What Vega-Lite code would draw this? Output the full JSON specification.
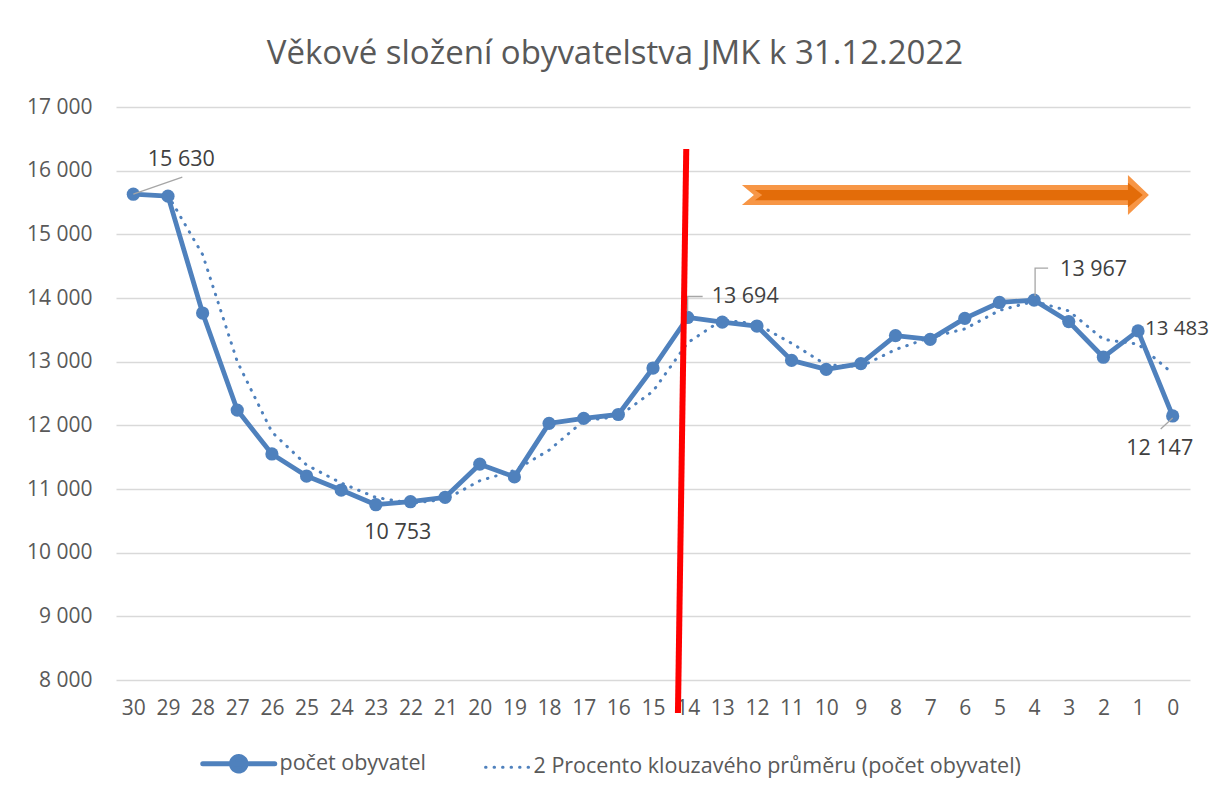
{
  "$schema": "https://vega.github.io/schema/vega-lite/v6.json",
  "width": 1074,
  "height": 573,
  "autosize": {"type": "none"},
  "padding": {"left": 116, "top": 107, "right": 19, "bottom": 113},
  "background": "white",
  "config": {
    "locale": {"number": {"decimal": ",", "thousands": " ", "grouping": [3], "currency": ["", ""]}},
    "font": "Open Sans",
    "view": {"stroke": null}
  },
  "title": {
    "text": "Věkové složení obyvatelstva JMK k 31.12.2022",
    "font": "Open Sans",
    "fontSize": 33,
    "fontWeight": "normal",
    "color": "#595959",
    "anchor": "middle",
    "dx": -38,
    "offset": 25
  },
  "datasets": {
    "main": [
      {"age": 30, "series": "počet obyvatel", "value": 15630},
      {"age": 29, "series": "počet obyvatel", "value": 15600},
      {"age": 28, "series": "počet obyvatel", "value": 13764},
      {"age": 27, "series": "počet obyvatel", "value": 12240},
      {"age": 26, "series": "počet obyvatel", "value": 11550},
      {"age": 25, "series": "počet obyvatel", "value": 11204},
      {"age": 24, "series": "počet obyvatel", "value": 10984},
      {"age": 23, "series": "počet obyvatel", "value": 10753},
      {"age": 22, "series": "počet obyvatel", "value": 10800},
      {"age": 21, "series": "počet obyvatel", "value": 10870},
      {"age": 20, "series": "počet obyvatel", "value": 11390},
      {"age": 19, "series": "počet obyvatel", "value": 11190},
      {"age": 18, "series": "počet obyvatel", "value": 12030},
      {"age": 17, "series": "počet obyvatel", "value": 12110},
      {"age": 16, "series": "počet obyvatel", "value": 12170},
      {"age": 15, "series": "počet obyvatel", "value": 12900},
      {"age": 14, "series": "počet obyvatel", "value": 13694},
      {"age": 13, "series": "počet obyvatel", "value": 13620},
      {"age": 12, "series": "počet obyvatel", "value": 13560},
      {"age": 11, "series": "počet obyvatel", "value": 13020},
      {"age": 10, "series": "počet obyvatel", "value": 12880},
      {"age": 9, "series": "počet obyvatel", "value": 12970},
      {"age": 8, "series": "počet obyvatel", "value": 13410},
      {"age": 7, "series": "počet obyvatel", "value": 13350},
      {"age": 6, "series": "počet obyvatel", "value": 13680},
      {"age": 5, "series": "počet obyvatel", "value": 13930},
      {"age": 4, "series": "počet obyvatel", "value": 13967},
      {"age": 3, "series": "počet obyvatel", "value": 13630},
      {"age": 2, "series": "počet obyvatel", "value": 13070},
      {"age": 1, "series": "počet obyvatel", "value": 13483},
      {"age": 0, "series": "počet obyvatel", "value": 12147},
      {"age": 29, "series": "2 Procento klouzavého průměru (počet obyvatel)", "value": 15615},
      {"age": 28, "series": "2 Procento klouzavého průměru (počet obyvatel)", "value": 14682},
      {"age": 27, "series": "2 Procento klouzavého průměru (počet obyvatel)", "value": 13002},
      {"age": 26, "series": "2 Procento klouzavého průměru (počet obyvatel)", "value": 11895},
      {"age": 25, "series": "2 Procento klouzavého průměru (počet obyvatel)", "value": 11377},
      {"age": 24, "series": "2 Procento klouzavého průměru (počet obyvatel)", "value": 11094},
      {"age": 23, "series": "2 Procento klouzavého průměru (počet obyvatel)", "value": 10868},
      {"age": 22, "series": "2 Procento klouzavého průměru (počet obyvatel)", "value": 10777},
      {"age": 21, "series": "2 Procento klouzavého průměru (počet obyvatel)", "value": 10835},
      {"age": 20, "series": "2 Procento klouzavého průměru (počet obyvatel)", "value": 11130},
      {"age": 19, "series": "2 Procento klouzavého průměru (počet obyvatel)", "value": 11290},
      {"age": 18, "series": "2 Procento klouzavého průměru (počet obyvatel)", "value": 11610},
      {"age": 17, "series": "2 Procento klouzavého průměru (počet obyvatel)", "value": 12070},
      {"age": 16, "series": "2 Procento klouzavého průměru (počet obyvatel)", "value": 12140},
      {"age": 15, "series": "2 Procento klouzavého průměru (počet obyvatel)", "value": 12535},
      {"age": 14, "series": "2 Procento klouzavého průměru (počet obyvatel)", "value": 13297},
      {"age": 13, "series": "2 Procento klouzavého průměru (počet obyvatel)", "value": 13657},
      {"age": 12, "series": "2 Procento klouzavého průměru (počet obyvatel)", "value": 13590},
      {"age": 11, "series": "2 Procento klouzavého průměru (počet obyvatel)", "value": 13290},
      {"age": 10, "series": "2 Procento klouzavého průměru (počet obyvatel)", "value": 12950},
      {"age": 9, "series": "2 Procento klouzavého průměru (počet obyvatel)", "value": 12925},
      {"age": 8, "series": "2 Procento klouzavého průměru (počet obyvatel)", "value": 13190},
      {"age": 7, "series": "2 Procento klouzavého průměru (počet obyvatel)", "value": 13380},
      {"age": 6, "series": "2 Procento klouzavého průměru (počet obyvatel)", "value": 13515},
      {"age": 5, "series": "2 Procento klouzavého průměru (počet obyvatel)", "value": 13805},
      {"age": 4, "series": "2 Procento klouzavého průměru (počet obyvatel)", "value": 13948},
      {"age": 3, "series": "2 Procento klouzavého průměru (počet obyvatel)", "value": 13798},
      {"age": 2, "series": "2 Procento klouzavého průměru (počet obyvatel)", "value": 13350},
      {"age": 1, "series": "2 Procento klouzavého průměru (počet obyvatel)", "value": 13276},
      {"age": 0, "series": "2 Procento klouzavého průměru (počet obyvatel)", "value": 12815}
    ],
    "labels": [
      {"age": 30, "value": 15630},
      {"age": 23, "value": 10753},
      {"age": 14, "value": 13694},
      {"age": 4, "value": 13967},
      {"age": 1, "value": 13483},
      {"age": 0, "value": 12147}
    ],
    "redline": [
      {"age": 14.04, "value": 16340, "age2": 14.28, "value2": 7482}
    ],
    "arrow": [
      {"age": 6.56, "value": 15617}
    ]
  },
  "layer": [
    {
      "data": {"name": "main"},
      "transform": [{"filter": "datum.series === 'počet obyvatel'"}],
      "mark": {"type": "line", "strokeWidth": 4.8, "strokeJoin": "round", "strokeCap": "round"},
      "encoding": {
        "x": {
          "field": "age", "type": "quantitative",
          "scale": {"domain": [-0.5, 30.5], "reverse": true, "nice": false, "zero": false},
          "axis": {
            "title": null, "values": [30,29,28,27,26,25,24,23,22,21,20,19,18,17,16,15,14,13,12,11,10,9,8,7,6,5,4,3,2,1,0],
            "tickCount": 40,
            "labelExpr": "'' + datum.value", "grid": false, "domain": false, "ticks": false,
            "labelFont": "Open Sans", "labelFontSize": 21, "labelColor": "#595959", "labelPadding": 17,
            "labelFlush": false, "labelOverlap": false, "labelBound": false
          }
        },
        "y": {
          "field": "value", "type": "quantitative",
          "scale": {"domain": [8000, 17000], "nice": false, "zero": false},
          "axis": {
            "title": null, "values": [8000,9000,10000,11000,12000,13000,14000,15000,16000,17000],
            "tickCount": 20,
            "format": ",d", "grid": true, "gridColor": "#D9D9D9", "gridWidth": 1.5,
            "domain": false, "ticks": false, "labelPadding": 24, "labelOverlap": false,
            "labelFont": "Open Sans", "labelFontSize": 21, "labelColor": "#595959"
          }
        },
        "color": {
          "field": "series", "type": "nominal",
          "scale": {
            "domain": ["počet obyvatel", "2 Procento klouzavého průměru (počet obyvatel)"],
            "range": ["#4F81BD", "#4F81BD"]
          },
          "legend": {
            "title": null, "orient": "none", "legendX": 112, "legendY": 646,
            "direction": "horizontal", "padding": 0, "symbolType": "stroke", "symbolSize": 5184,
            "symbolStrokeWidth": 4, "labelFont": "Open Sans", "labelFontSize": 21.5, "labelColor": "#595959",
            "labelOffset": 30, "columnPadding": 53, "labelLimit": 1000,
            "encode": {
              "symbols": {
                "update": {
                  "shape": {"signal": "datum.value === 'počet obyvatel' ? 'M-1,0L1,0M-0.2,0A0.2,0.2,0,1,1,0.2,0A0.2,0.2,0,1,1,-0.2,0Z' : 'M-0.2,0L1,0'"},
                  "size": {"value": 5184},
                  "fill": {"signal": "datum.value === 'počet obyvatel' ? '#4F81BD' : 'transparent'"},
                  "strokeWidth": {"signal": "datum.value === 'počet obyvatel' ? 5 : 3"},
                  "strokeDash": {"signal": "datum.value === 'počet obyvatel' ? [1,0] : [0.5,8]"},
                  "strokeCap": {"value": "round"},
                  "stroke": {"value": "#4F81BD"},
                  "opacity": {"value": 1}
                }
              }
            }
          }
        }
      }
    },
    {
      "data": {"name": "main"},
      "transform": [{"filter": "datum.series === 'počet obyvatel'"}],
      "mark": {"type": "point", "filled": true, "size": 175, "color": "#4F81BD", "opacity": 1},
      "encoding": {
        "x": {"field": "age", "type": "quantitative"},
        "y": {"field": "value", "type": "quantitative"}
      }
    },
    {
      "data": {"name": "main"},
      "transform": [{"filter": "datum.series !== 'počet obyvatel'"}],
      "mark": {"type": "line", "strokeWidth": 3, "strokeDash": [0.5, 8], "strokeCap": "round"},
      "encoding": {
        "x": {"field": "age", "type": "quantitative"},
        "y": {"field": "value", "type": "quantitative"},
        "color": {"field": "series", "type": "nominal"}
      }
    },
    {
      "data": {"name": "labels"},
      "transform": [{"filter": "datum.age === 30"}],
      "mark": {"type": "point", "shape": "M0,0L49,-17", "size": 4, "filled": false, "stroke": "#A6A6A6", "strokeWidth": 1.3, "opacity": 1},
      "encoding": {"x": {"field": "age", "type": "quantitative"}, "y": {"field": "value", "type": "quantitative"}}
    },
    {
      "data": {"name": "labels"},
      "transform": [{"filter": "datum.age === 14"}],
      "mark": {"type": "point", "shape": "M0,-6L0,-21L15,-21", "size": 4, "filled": false, "stroke": "#A6A6A6", "strokeWidth": 1.3, "opacity": 1},
      "encoding": {"x": {"field": "age", "type": "quantitative"}, "y": {"field": "value", "type": "quantitative"}}
    },
    {
      "data": {"name": "labels"},
      "transform": [{"filter": "datum.age === 4"}],
      "mark": {"type": "point", "shape": "M1,-4L1,-32L14,-32", "size": 4, "filled": false, "stroke": "#A6A6A6", "strokeWidth": 1.3, "opacity": 1},
      "encoding": {"x": {"field": "age", "type": "quantitative"}, "y": {"field": "value", "type": "quantitative"}}
    },
    {
      "data": {"name": "labels"},
      "transform": [{"filter": "datum.age === 0"}],
      "mark": {"type": "point", "shape": "M0,2L-12,13", "size": 4, "filled": false, "stroke": "#A6A6A6", "strokeWidth": 1.3, "opacity": 1},
      "encoding": {"x": {"field": "age", "type": "quantitative"}, "y": {"field": "value", "type": "quantitative"}}
    },
    {
      "data": {"name": "labels"},
      "transform": [{"filter": "datum.age === 30"}],
      "mark": {"type": "text", "align": "center", "baseline": "middle", "dx": 48, "dy": -34, "fontSize": 21.5, "font": "Open Sans", "color": "#404040"},
      "encoding": {"x": {"field": "age", "type": "quantitative"}, "y": {"field": "value", "type": "quantitative"}, "text": {"field": "value", "type": "quantitative", "format": ",d"}}
    },
    {
      "data": {"name": "labels"},
      "transform": [{"filter": "datum.age === 23"}],
      "mark": {"type": "text", "align": "center", "baseline": "middle", "dx": 22, "dy": 28, "fontSize": 21.5, "font": "Open Sans", "color": "#404040"},
      "encoding": {"x": {"field": "age", "type": "quantitative"}, "y": {"field": "value", "type": "quantitative"}, "text": {"field": "value", "type": "quantitative", "format": ",d"}}
    },
    {
      "data": {"name": "labels"},
      "transform": [{"filter": "datum.age === 14"}],
      "mark": {"type": "text", "align": "left", "baseline": "middle", "dx": 24, "dy": -20, "fontSize": 21.5, "font": "Open Sans", "color": "#404040"},
      "encoding": {"x": {"field": "age", "type": "quantitative"}, "y": {"field": "value", "type": "quantitative"}, "text": {"field": "value", "type": "quantitative", "format": ",d"}}
    },
    {
      "data": {"name": "labels"},
      "transform": [{"filter": "datum.age === 4"}],
      "mark": {"type": "text", "align": "left", "baseline": "middle", "dx": 26, "dy": -30, "fontSize": 21.5, "font": "Open Sans", "color": "#404040"},
      "encoding": {"x": {"field": "age", "type": "quantitative"}, "y": {"field": "value", "type": "quantitative"}, "text": {"field": "value", "type": "quantitative", "format": ",d"}}
    },
    {
      "data": {"name": "labels"},
      "transform": [{"filter": "datum.age === 1"}],
      "mark": {"type": "text", "align": "left", "baseline": "middle", "dx": 7, "dy": -2, "fontSize": 20.5, "font": "Open Sans", "color": "#404040"},
      "encoding": {"x": {"field": "age", "type": "quantitative"}, "y": {"field": "value", "type": "quantitative"}, "text": {"field": "value", "type": "quantitative", "format": ",d"}}
    },
    {
      "data": {"name": "labels"},
      "transform": [{"filter": "datum.age === 0"}],
      "mark": {"type": "text", "align": "center", "baseline": "middle", "dx": -13, "dy": 33, "fontSize": 21.5, "font": "Open Sans", "color": "#404040"},
      "encoding": {"x": {"field": "age", "type": "quantitative"}, "y": {"field": "value", "type": "quantitative"}, "text": {"field": "value", "type": "quantitative", "format": ",d"}}
    },
    {
      "data": {"name": "redline"},
      "mark": {"type": "rule", "color": "#FF0000", "strokeWidth": 6, "strokeCap": "butt"},
      "encoding": {
        "x": {"field": "age", "type": "quantitative"},
        "y": {"field": "value", "type": "quantitative"},
        "x2": {"field": "age2"},
        "y2": {"field": "value2"}
      }
    },
    {
      "data": {"name": "arrow"},
      "mark": {"type": "point", "shape": "M-1,-0.049L0.897,-0.049L0.897,-0.098L1,0L0.897,0.098L0.897,0.049L-1,0.049L-0.941,0Z", "size": 165649, "filled": true, "color": "#F79646", "opacity": 1, "strokeWidth": 0},
      "encoding": {"x": {"field": "age", "type": "quantitative"}, "y": {"field": "value", "type": "quantitative"}}
    },
    {
      "data": {"name": "arrow"},
      "mark": {"type": "point", "shape": "M-0.936,-0.025L0.897,-0.025L0.897,-0.06L0.97,0L0.897,0.06L0.897,0.025L-0.936,0.025L-0.9,0Z", "size": 165649, "filled": true, "color": "#E36C09", "opacity": 1, "strokeWidth": 0},
      "encoding": {"x": {"field": "age", "type": "quantitative"}, "y": {"field": "value", "type": "quantitative"}}
    }
  ]
}
